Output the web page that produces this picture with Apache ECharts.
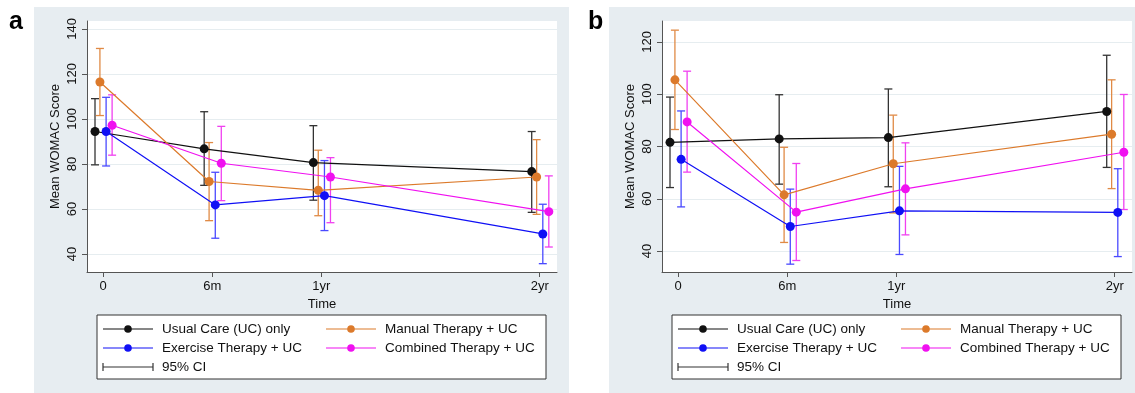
<!DOCTYPE html>
<html>
<head>
<meta charset="utf-8">
<script src="https://cdn.jsdelivr.net/npm/echarts@6/dist/echarts.min.js"></script>
<style>
  html, body { margin: 0; padding: 0; background: #fff; }
  #chart { width: 1135px; height: 393px; }
</style>
</head>
<body>
<div id="chart"></div>
<script>
// time points (months) and their labels
let months = [0, 6, 12, 24];
let timeLabels = ["0", "6m", "1yr", "2yr"];
let groupNames = ["Usual Care (UC) only", "Manual Therapy + UC", "Exercise Therapy + UC", "Combined Therapy + UC"];

// panel a
let ucMeanA = [94.4, 86.7, 80.6, 76.6];
let ucLowA = [79.6, 70.5, 63.9, 58.5];
let ucHighA = [109.0, 103.2, 97.0, 94.4];
let mtMeanA = [116.4, 72.2, 68.3, 74.2];
let mtLowA = [101.5, 54.8, 57.0, 57.6];
let mtHighA = [131.3, 89.5, 86.1, 90.8];
let etMeanA = [94.4, 61.8, 65.9, 48.9];
let etLowA = [79.1, 47.0, 50.4, 35.7];
let etHighA = [109.6, 76.3, 81.5, 62.1];
let ctMeanA = [97.2, 80.3, 74.2, 58.8];
let ctLowA = [83.9, 63.7, 53.9, 43.1];
let ctHighA = [110.7, 96.7, 82.8, 74.7];

// panel b
let ucMeanB = [81.6, 82.9, 83.4, 93.4];
let ucLowB = [64.3, 65.6, 64.6, 72.0];
let ucHighB = [98.9, 99.8, 102.0, 114.9];
let mtMeanB = [105.5, 61.5, 73.4, 84.7];
let mtLowB = [86.5, 43.3, 54.6, 63.9];
let mtHighB = [124.5, 79.7, 92.0, 105.5];
let etMeanB = [75.1, 49.4, 55.4, 54.8];
let etLowB = [56.9, 35.0, 38.7, 37.9];
let etHighB = [93.6, 63.7, 72.4, 71.5];
let ctMeanB = [89.4, 54.9, 63.8, 77.8];
let ctLowB = [70.2, 36.4, 46.2, 55.9];
let ctHighB = [108.8, 73.5, 81.4, 99.9];

let colors = ["#111111", "#dc7a2b", "#1010f5", "#f010f0"];
let ciColors = ["#333333", "#e08a45", "#4a4aff", "#f040f0"];
// small horizontal dodge so the groups don't overlap (months)
let dodge = [-0.44, -0.17, 0.17, 0.5];
let font = "Liberation Sans, Arial, Helvetica, sans-serif";

let panels = [
    {
        means: [ucMeanA, mtMeanA, etMeanA, ctMeanA],
        lows: [ucLowA, mtLowA, etLowA, ctLowA],
        highs: [ucHighA, mtHighA, etHighA, ctHighA],
        yMin: 32, yMax: 143.5,
        grid: {left: 87, top: 21, width: 470, height: 251},
        bg: [34, 7, 535, 390], letter: "a", letterX: 9,
        legendX: 97
    },
    {
        means: [ucMeanB, mtMeanB, etMeanB, ctMeanB],
        lows: [ucLowB, mtLowB, etLowB, ctLowB],
        highs: [ucHighB, mtHighB, etHighB, ctHighB],
        yMin: 32, yMax: 128,
        grid: {left: 662, top: 21, width: 470, height: 251},
        bg: [609, 7, 530, 390], letter: "b", letterX: 588,
        legendX: 672
    }
];

function renderCap(params, api) {
    let x = api.value(0);
    let lo = api.coord([x, api.value(1)]);
    let hi = api.coord([x, api.value(2)]);
    let w = 4;
    let st = {stroke: api.visual("color"), lineWidth: 1.3};
    return {
        type: "group",
        children: [
            {type: "line", shape: {x1: lo[0], y1: lo[1], x2: hi[0], y2: hi[1]}, style: st},
            {type: "line", shape: {x1: lo[0] - w, y1: lo[1], x2: lo[0] + w, y2: lo[1]}, style: st},
            {type: "line", shape: {x1: hi[0] - w, y1: hi[1], x2: hi[0] + w, y2: hi[1]}, style: st}
        ]
    };
}

let grids = [], xAxes = [], yAxes = [], series = [], graphics = [];

panels.forEach(function (p, pi) {
    graphics.push({
        type: "rect", z: -10, silent: true,
        shape: {x: p.bg[0], y: p.bg[1], width: p.bg[2], height: p.bg[3]},
        style: {fill: "#e7edf1"}
    });
    graphics.push({
        type: "text", left: p.letterX, top: 10,
        style: {text: p.letter, font: "bold 25px " + font, fill: "#000"}
    });
    grids.push({
        left: p.grid.left, top: p.grid.top, width: p.grid.width, height: p.grid.height,
        show: true, backgroundColor: "#fff", borderWidth: 0
    });
    xAxes.push({
        type: "value", gridIndex: pi, min: -0.88, max: 24.95,
        name: "Time", nameLocation: "middle", nameGap: 21,
        nameTextStyle: {fontFamily: font, fontSize: 13, color: "#111"},
        axisLine: {onZero: false, lineStyle: {color: "#555", width: 1}},
        axisTick: {show: true, length: 5, customValues: months, lineStyle: {color: "#555"}},
        axisLabel: {
            customValues: months, margin: 8, fontFamily: font, fontSize: 13, color: "#111",
            formatter: function (v) { return timeLabels[months.indexOf(v)]; }
        },
        splitLine: {show: false}
    });
    yAxes.push({
        type: "value", gridIndex: pi, min: p.yMin, max: p.yMax,
        name: "Mean WOMAC Score", nameLocation: "middle", nameGap: 25,
        nameTextStyle: {fontFamily: font, fontSize: 13, color: "#111"},
        axisLine: {show: true, onZero: false, lineStyle: {color: "#555", width: 1}},
        axisTick: {show: true, length: 5, lineStyle: {color: "#555"}},
        axisLabel: {rotate: 90, margin: 8, fontFamily: font, fontSize: 13, color: "#111",
            showMinLabel: false, showMaxLabel: false},
        splitLine: {show: true, showMinLine: false, showMaxLine: false,
            lineStyle: {color: "#e6edf0", width: 1.2}}
    });

    // 95% CI caps first, then lines with markers on top
    for (let g = 0; g < 4; g++) {
        series.push({
            type: "custom", xAxisIndex: pi, yAxisIndex: pi,
            name: groupNames[g] + " CI",
            itemStyle: {color: ciColors[g]},
            renderItem: renderCap,
            data: months.map(function (m, i) { return [m + dodge[g], p.lows[g][i], p.highs[g][i]]; }),
            z: 2
        });
    }
    for (let g = 0; g < 4; g++) {
        series.push({
            type: "line", xAxisIndex: pi, yAxisIndex: pi,
            name: groupNames[g],
            symbol: "circle", symbolSize: 9,
            lineStyle: {color: colors[g], width: 1.2},
            itemStyle: {color: colors[g]},
            data: months.map(function (m, i) { return [m + dodge[g], p.means[g][i]]; }),
            z: 3
        });
    }

    // legend box
    let lx = p.legendX, ly = 315;
    graphics.push({
        type: "rect", shape: {x: lx, y: ly, width: 449, height: 64},
        style: {fill: "#fff", stroke: "#333", lineWidth: 1}
    });
    let entries = [
        {g: 0, col: 0, row: 0}, {g: 1, col: 1, row: 0},
        {g: 2, col: 0, row: 1}, {g: 3, col: 1, row: 1}
    ];
    entries.forEach(function (e) {
        let x0 = lx + 6 + e.col * 223;
        let y0 = ly + 14 + e.row * 19;
        graphics.push({type: "line", shape: {x1: x0, y1: y0, x2: x0 + 50, y2: y0},
            style: {stroke: colors[e.g], lineWidth: 1.2}});
        graphics.push({type: "circle", shape: {cx: x0 + 25, cy: y0, r: 3.8},
            style: {fill: colors[e.g]}});
        graphics.push({type: "text", x: x0 + 59, y: y0,
            style: {text: groupNames[e.g], font: "13.5px " + font, fill: "#111", verticalAlign: "middle"}});
    });
    let cy = ly + 52, cx = lx + 6;
    graphics.push({type: "line", shape: {x1: cx, y1: cy, x2: cx + 50, y2: cy}, style: {stroke: "#333", lineWidth: 1.2}});
    graphics.push({type: "line", shape: {x1: cx, y1: cy - 4, x2: cx, y2: cy + 4}, style: {stroke: "#333", lineWidth: 1.2}});
    graphics.push({type: "line", shape: {x1: cx + 50, y1: cy - 4, x2: cx + 50, y2: cy + 4}, style: {stroke: "#333", lineWidth: 1.2}});
    graphics.push({type: "text", x: cx + 59, y: cy,
        style: {text: "95% CI", font: "13.5px " + font, fill: "#111", verticalAlign: "middle"}});
});

let myChart = echarts.init(document.getElementById("chart"));
myChart.setOption({
    animation: false,
    backgroundColor: "#fff",
    grid: grids,
    xAxis: xAxes,
    yAxis: yAxes,
    series: series,
    graphic: graphics
});
</script>
</body>
</html>
